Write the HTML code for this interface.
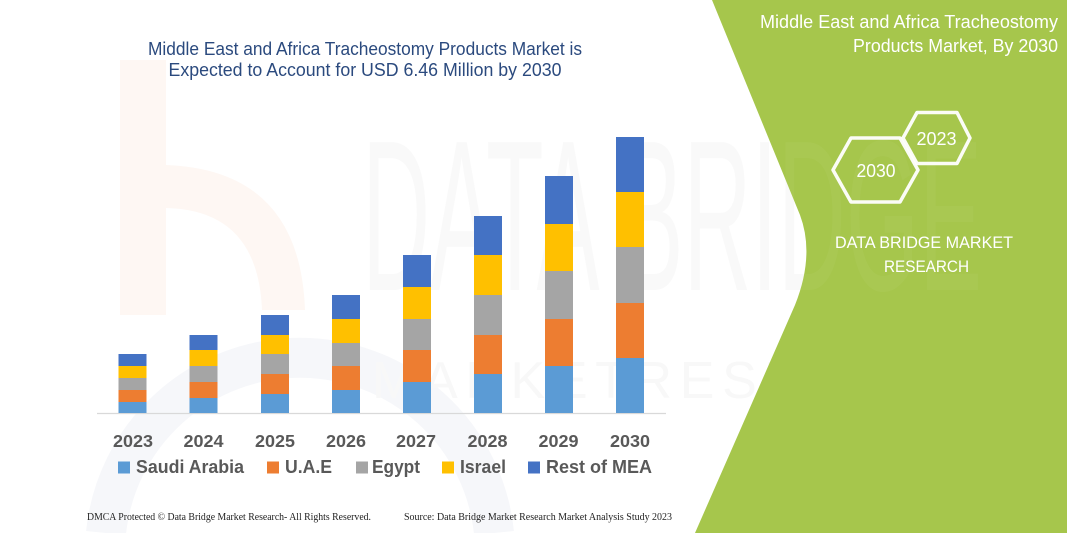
<!DOCTYPE html>
<html>
<head>
<meta charset="utf-8">
<style>
  html,body{margin:0;padding:0;background:#fff;width:1067px;height:533px;overflow:hidden;}
  svg{display:block;}
</style>
</head>
<body>
<svg width="1067" height="533" viewBox="0 0 1067 533" xmlns="http://www.w3.org/2000/svg">
  <defs>
    <clipPath id="panelClip">
      <path d="M712,0 L1067,0 L1067,533 L695,533 L795,305 Q815,255 800,215 Z"/>
    </clipPath>
    <clipPath id="frame"><rect width="1067" height="533"/></clipPath>
  </defs>
  <g clip-path="url(#frame)">
  <rect width="1067" height="533" fill="#ffffff"/>

  <!-- faint logo watermark -->
  <rect x="120" y="60" width="46" height="255" fill="#fef7f3"/>
  <path d="M166,165 Q300,170 305,310 L262,310 Q258,210 166,208 Z" fill="#fef7f3"/>
  <path d="M106,533 A195,195 0 0 1 494,533" fill="none" stroke="#f6f7fa" stroke-width="40"/>

  <!-- faint text watermark -->
  <text x="362" y="290" font-family="Liberation Sans, sans-serif" font-size="215" fill="#f9f9f9" textLength="620" lengthAdjust="spacingAndGlyphs">DATA BRIDGE</text>
  <text x="372" y="398" font-family="Liberation Sans, sans-serif" font-size="52" fill="#f8f8f8" textLength="605" lengthAdjust="spacing">MARKETRESEARCH</text>

  <!-- title -->
  <g font-family="Liberation Sans, sans-serif" font-size="18.5" fill="#2B4A7E" text-anchor="middle">
    <text x="365" y="55" textLength="434" lengthAdjust="spacingAndGlyphs">Middle East and Africa Tracheostomy Products Market is</text>
    <text x="365" y="76" textLength="393" lengthAdjust="spacingAndGlyphs">Expected to Account for USD 6.46 Million by 2030</text>
  </g>

  <!-- axis line -->
  <line x1="97" y1="413.5" x2="666" y2="413.5" stroke="#d9d9d9" stroke-width="1.2"/>

  <!-- bars -->
  <g>
    <rect x="118.5" y="402" width="28" height="11" fill="#5B9BD5"/>
    <rect x="118.5" y="390" width="28" height="12" fill="#ED7D31"/>
    <rect x="118.5" y="378" width="28" height="12" fill="#A5A5A5"/>
    <rect x="118.5" y="366" width="28" height="12" fill="#FFC000"/>
    <rect x="118.5" y="354" width="28" height="12" fill="#4472C4"/>

    <rect x="189.5" y="398" width="28" height="15" fill="#5B9BD5"/>
    <rect x="189.5" y="382" width="28" height="16" fill="#ED7D31"/>
    <rect x="189.5" y="366" width="28" height="16" fill="#A5A5A5"/>
    <rect x="189.5" y="350" width="28" height="16" fill="#FFC000"/>
    <rect x="189.5" y="335" width="28" height="15" fill="#4472C4"/>

    <rect x="261" y="394" width="28" height="19" fill="#5B9BD5"/>
    <rect x="261" y="374" width="28" height="20" fill="#ED7D31"/>
    <rect x="261" y="354" width="28" height="20" fill="#A5A5A5"/>
    <rect x="261" y="335" width="28" height="19" fill="#FFC000"/>
    <rect x="261" y="315" width="28" height="20" fill="#4472C4"/>

    <rect x="332" y="390" width="28" height="23" fill="#5B9BD5"/>
    <rect x="332" y="366" width="28" height="24" fill="#ED7D31"/>
    <rect x="332" y="343" width="28" height="23" fill="#A5A5A5"/>
    <rect x="332" y="319" width="28" height="24" fill="#FFC000"/>
    <rect x="332" y="295" width="28" height="24" fill="#4472C4"/>

    <rect x="403" y="382" width="28" height="31" fill="#5B9BD5"/>
    <rect x="403" y="350" width="28" height="32" fill="#ED7D31"/>
    <rect x="403" y="319" width="28" height="31" fill="#A5A5A5"/>
    <rect x="403" y="287" width="28" height="32" fill="#FFC000"/>
    <rect x="403" y="255" width="28" height="32" fill="#4472C4"/>

    <rect x="474" y="374" width="28" height="39" fill="#5B9BD5"/>
    <rect x="474" y="335" width="28" height="39" fill="#ED7D31"/>
    <rect x="474" y="295" width="28" height="40" fill="#A5A5A5"/>
    <rect x="474" y="255" width="28" height="40" fill="#FFC000"/>
    <rect x="474" y="216" width="28" height="39" fill="#4472C4"/>

    <rect x="545" y="366" width="28" height="47" fill="#5B9BD5"/>
    <rect x="545" y="319" width="28" height="47" fill="#ED7D31"/>
    <rect x="545" y="271" width="28" height="48" fill="#A5A5A5"/>
    <rect x="545" y="224" width="28" height="47" fill="#FFC000"/>
    <rect x="545" y="176" width="28" height="48" fill="#4472C4"/>

    <rect x="616" y="358" width="28" height="55" fill="#5B9BD5"/>
    <rect x="616" y="303" width="28" height="55" fill="#ED7D31"/>
    <rect x="616" y="247" width="28" height="56" fill="#A5A5A5"/>
    <rect x="616" y="192" width="28" height="55" fill="#FFC000"/>
    <rect x="616" y="137" width="28" height="55" fill="#4472C4"/>
  </g>

  <!-- year labels -->
  <g font-family="Liberation Sans, sans-serif" font-size="17.5" font-weight="bold" fill="#595959" text-anchor="middle">
    <text x="133" y="447" textLength="40" lengthAdjust="spacingAndGlyphs">2023</text>
    <text x="203.5" y="447" textLength="40" lengthAdjust="spacingAndGlyphs">2024</text>
    <text x="275" y="447" textLength="40" lengthAdjust="spacingAndGlyphs">2025</text>
    <text x="346" y="447" textLength="40" lengthAdjust="spacingAndGlyphs">2026</text>
    <text x="416" y="447" textLength="40" lengthAdjust="spacingAndGlyphs">2027</text>
    <text x="487.5" y="447" textLength="40" lengthAdjust="spacingAndGlyphs">2028</text>
    <text x="558.5" y="447" textLength="40" lengthAdjust="spacingAndGlyphs">2029</text>
    <text x="630" y="447" textLength="40" lengthAdjust="spacingAndGlyphs">2030</text>
  </g>

  <!-- legend -->
  <g font-family="Liberation Sans, sans-serif" font-size="18" font-weight="bold" fill="#595959">
    <rect x="118" y="461.5" width="12" height="12" fill="#5B9BD5"/>
    <text x="136" y="473" textLength="108" lengthAdjust="spacingAndGlyphs">Saudi Arabia</text>
    <rect x="267" y="461.5" width="12" height="12" fill="#ED7D31"/>
    <text x="285" y="473" textLength="47" lengthAdjust="spacingAndGlyphs">U.A.E</text>
    <rect x="356" y="461.5" width="12" height="12" fill="#A5A5A5"/>
    <text x="372" y="473" textLength="48" lengthAdjust="spacingAndGlyphs">Egypt</text>
    <rect x="442" y="461.5" width="12" height="12" fill="#FFC000"/>
    <text x="460" y="473" textLength="46" lengthAdjust="spacingAndGlyphs">Israel</text>
    <rect x="528" y="461.5" width="12" height="12" fill="#4472C4"/>
    <text x="546" y="473" textLength="106" lengthAdjust="spacingAndGlyphs">Rest of MEA</text>
  </g>

  <!-- footer -->
  <g font-family="Liberation Serif, serif" font-size="10" fill="#222">
    <text x="87" y="520" textLength="284" lengthAdjust="spacingAndGlyphs">DMCA Protected © Data Bridge Market Research-  All Rights Reserved.</text>
    <text x="404" y="520" textLength="268" lengthAdjust="spacingAndGlyphs">Source: Data Bridge Market Research  Market Analysis Study 2023</text>
  </g>

  <!-- green panel -->
  <path d="M712,0 L1067,0 L1067,533 L695,533 L795,305 Q815,255 800,215 Z" fill="#A6C64C"/>
  <g clip-path="url(#panelClip)">
    <text x="362" y="290" font-family="Liberation Sans, sans-serif" font-size="215" fill="#ffffff" fill-opacity="0.035" textLength="620" lengthAdjust="spacingAndGlyphs">DATA BRIDGE</text>
  </g>

  <!-- panel text -->
  <g font-family="Liberation Sans, sans-serif" font-size="18" fill="#ffffff" text-anchor="end">
    <text x="1058" y="28" textLength="298" lengthAdjust="spacingAndGlyphs">Middle East and Africa Tracheostomy</text>
    <text x="1058" y="52" textLength="205" lengthAdjust="spacingAndGlyphs">Products Market, By 2030</text>
  </g>

  <!-- hexagons -->
  <g fill="none" stroke="#ffffff" stroke-width="3.5" stroke-linejoin="round" stroke-opacity="0.95">
    <polygon points="903,138 917,112.5 957,112.5 970,138 957,163.5 917,163.5"/>
    <polygon points="833,170 851,138 900,138 918,170 900,202 851,202"/>
  </g>
  <g font-family="Liberation Sans, sans-serif" font-size="18" fill="#ffffff" text-anchor="middle">
    <text x="936.5" y="145" textLength="40" lengthAdjust="spacingAndGlyphs">2023</text>
    <text x="876" y="177" textLength="39" lengthAdjust="spacingAndGlyphs">2030</text>
  </g>

  <g font-family="Liberation Sans, sans-serif" font-size="16.5" fill="#ffffff" text-anchor="middle">
    <text x="924" y="248" textLength="178" lengthAdjust="spacingAndGlyphs">DATA BRIDGE MARKET</text>
    <text x="926.5" y="272" textLength="85" lengthAdjust="spacingAndGlyphs">RESEARCH</text>
  </g>
  </g>
</svg>
</body>
</html>
